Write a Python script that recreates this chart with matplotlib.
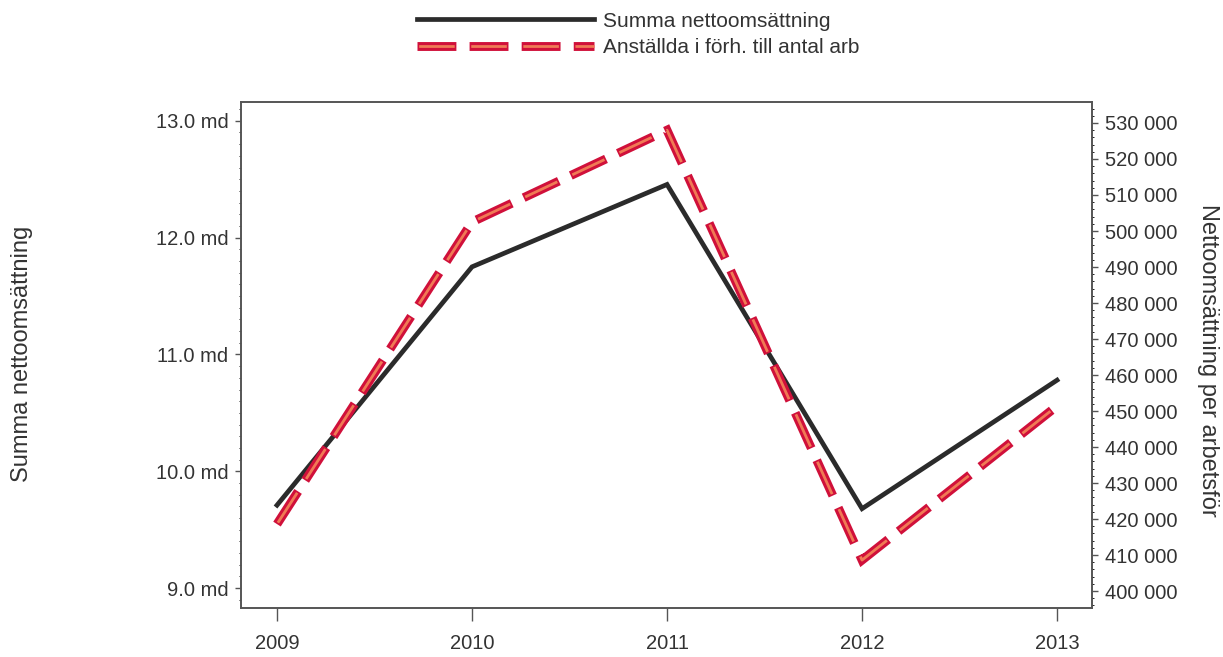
import matplotlib
matplotlib.use("Agg")
import matplotlib.pyplot as plt
from matplotlib.ticker import FuncFormatter, MultipleLocator

plt.rcParams["font.family"] = ["Liberation Sans", "DejaVu Sans"]
plt.rcParams["lines.scale_dashes"] = False

# Data
years = [2009, 2010, 2011, 2012, 2013]
summa_netto = [9.71, 11.75, 12.455, 9.68, 10.78]  # miljarder kr
netto_per_arb = [418600, 502500, 528000, 408600, 451400]

year_labels = ["2009", "2010", "2011", "2012", "2013"]
left_ticks = [9, 10, 11, 12, 13]
right_ticks = list(range(400000, 530001, 10000))

text_color = "#333333"
spine_color = "#555555"
black = "#2b2b2b"
red = "#d0103a"
salmon = "#f07a55"

fig = plt.figure(figsize=(12.23, 6.57), dpi=100)
ax = fig.add_axes([0.197, 0.0746, 0.696, 0.770])
ax2 = ax.twinx()

line_black, = ax.plot(years, summa_netto, color=black, linewidth=3.4,
                      solid_joinstyle="miter", zorder=3)

red_outer, = ax2.plot(years, netto_per_arb, color=red, linewidth=6.4,
                      linestyle=(0, (28, 9.5)), dash_capstyle="butt",
                      dash_joinstyle="miter", zorder=3)
red_inner, = ax2.plot(years, netto_per_arb, color=salmon, linewidth=2.0,
                      linestyle=(-1.2, (25.6, 11.9)), dash_capstyle="butt",
                      zorder=4)

ax.set_xlim(2008.815, 2013.18)
ax.set_ylim(8.83, 13.16)
ax2.set_ylim(395300, 535800)

ax.set_xticks(years)
ax.set_xticklabels(year_labels)
ax.set_yticks(left_ticks)
ax.yaxis.set_major_formatter(FuncFormatter(lambda v, p: f"{v:.1f} md"))
ax.yaxis.set_minor_locator(MultipleLocator(0.1))

ax2.set_yticks(right_ticks)
ax2.yaxis.set_major_formatter(FuncFormatter(lambda v, p: f"{int(v):,}".replace(",", " ")))
ax2.yaxis.set_minor_locator(MultipleLocator(2000))

for a in (ax, ax2):
    for s in a.spines.values():
        s.set_color(spine_color)
        s.set_linewidth(1.2)
    a.tick_params(axis="both", colors=spine_color, labelcolor=text_color,
                  labelsize=14.5, width=1.0)
    a.tick_params(axis="y", which="major", length=4, pad=5)
    a.tick_params(axis="y", which="minor", length=1.5, width=0.6)

ax.tick_params(axis="x", which="major", length=9, pad=10)
ax.tick_params(axis="x", which="minor", length=0)

fig.text(0.018, 0.462, "Summa nettoomsättning", rotation=90, ha="center",
         va="center", fontsize=17, color=text_color)
fig.text(0.988, 0.452, "Nettoomsättning per arbetsför", rotation=-90,
         ha="center", va="center", fontsize=17, color=text_color)

fig.legend([line_black, (red_outer, red_inner)],
           ["Summa nettoomsättning", "Anställda i förh. till antal arb"],
           loc="center", bbox_to_anchor=(0.522, 0.948), frameon=False,
           fontsize=15, handlelength=8.5, handletextpad=0.45,
           labelspacing=0.35, borderpad=0, labelcolor=text_color)

fig.savefig("out.png", dpi=100, facecolor="white")
